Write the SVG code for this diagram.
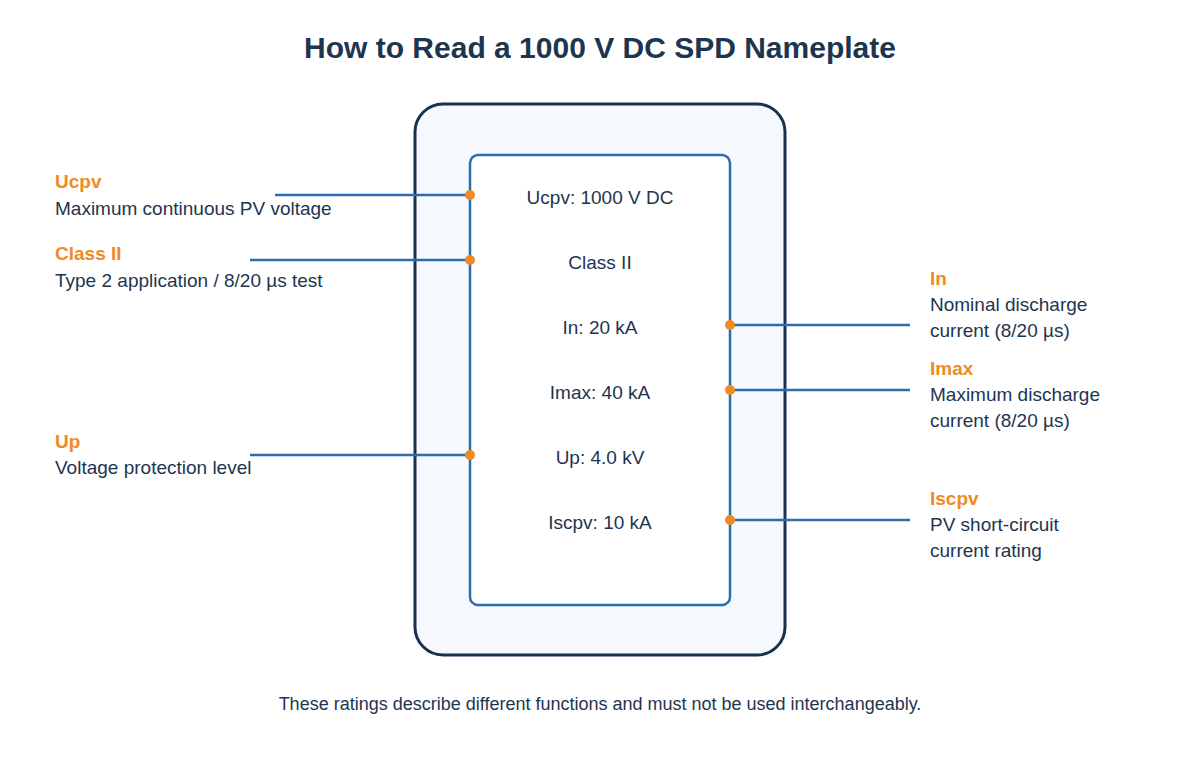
<svg xmlns="http://www.w3.org/2000/svg" width="1200" height="760" viewBox="0 0 1200 760">
<style>
text{font-family:"Liberation Sans",Arial,sans-serif;fill:#1e3550}
.t{font-size:30px;font-weight:bold;text-anchor:middle}
.v{font-size:19px;text-anchor:middle}
.k{font-size:19px;font-weight:bold;fill:#f08a24}
.d{font-size:19px}
.f{font-size:18px;text-anchor:middle}
.c{stroke:#2a6db0;stroke-width:2.5;fill:none}
.dot{fill:#f08a24}
</style>
<rect width="1200" height="760" fill="#fff"/>
<text class="t" x="600" y="58">How to Read a 1000 V DC SPD Nameplate</text>
<g id="plate">
<rect x="415" y="104" width="370" height="551" rx="28" fill="#f5f9fe" stroke="#1a3050" stroke-width="3"/>
<rect x="470" y="155" width="260" height="450" rx="8" fill="#fff" stroke="#2a6db0" stroke-width="2.5"/>
<text class="v" x="600" y="204">Ucpv: 1000 V DC</text>
<text class="v" x="600" y="269">Class II</text>
<text class="v" x="600" y="334">In: 20 kA</text>
<text class="v" x="600" y="399">Imax: 40 kA</text>
<text class="v" x="600" y="464">Up: 4.0 kV</text>
<text class="v" x="600" y="529">Iscpv: 10 kA</text>
</g>
<g id="connectors">
<path class="c" d="M275 195H470M250 260H470M250 455H470M730 325H910M730 390H910M730 520H910"/>
<circle class="dot" cx="470" cy="195" r="5"/>
<circle class="dot" cx="470" cy="260" r="5"/>
<circle class="dot" cx="470" cy="455" r="5"/>
<circle class="dot" cx="730" cy="325" r="5"/>
<circle class="dot" cx="730" cy="390" r="5"/>
<circle class="dot" cx="730" cy="520" r="5"/>
</g>
<g id="ucpv"><text class="k" x="55" y="188">Ucpv</text><text class="d" x="55" y="215">Maximum continuous PV voltage</text></g>
<g id="class"><text class="k" x="55" y="260">Class II</text><text class="d" x="55" y="287">Type 2 application / 8/20 µs test</text></g>
<g id="up"><text class="k" x="55" y="448">Up</text><text class="d" x="55" y="474">Voltage protection level</text></g>
<g id="in"><text class="k" x="930" y="285">In</text><text class="d" x="930" y="311">Nominal discharge</text><text class="d" x="930" y="337">current (8/20 µs)</text></g>
<g id="imax"><text class="k" x="930" y="375">Imax</text><text class="d" x="930" y="401">Maximum discharge</text><text class="d" x="930" y="427">current (8/20 µs)</text></g>
<g id="iscpv"><text class="k" x="930" y="505">Iscpv</text><text class="d" x="930" y="531">PV short-circuit</text><text class="d" x="930" y="557">current rating</text></g>
<text class="f" x="600" y="710">These ratings describe different functions and must not be used interchangeably.</text>
</svg>
